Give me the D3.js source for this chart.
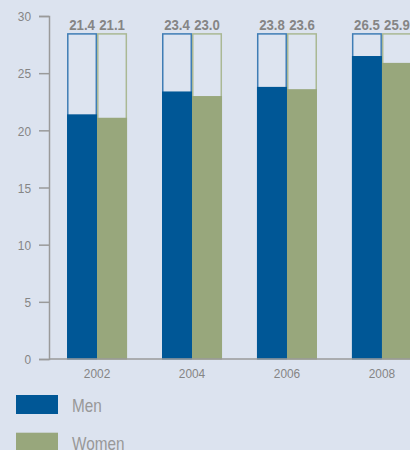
<!DOCTYPE html>
<html>
<head>
<meta charset="utf-8">
<script src="https://cdn.jsdelivr.net/npm/d3@7"></script>
<style>
  html, body { margin: 0; padding: 0; background: #dce3ef; }
  svg { display: block; }
  text { font-family: "Liberation Sans", Arial, sans-serif; }
</style>
</head>
<body>
<svg id="chart" width="410" height="450"></svg>
<script>
// Survey years and percentages per group
const years = ["2002", "2004", "2006", "2008"];
const men = [21.4, 23.4, 23.8, 26.5];
const women = [21.1, 23.0, 23.6, 25.9];
const seriesNames = ["Men", "Women"];
const yTicks = [0, 5, 10, 15, 20, 25, 30];
// Height of the empty frame drawn behind every bar
const frameValue = 28.5;

const colors = { Men: "#005796", Women: "#98a77c" };
const frameStroke = { Men: "#3f7db5", Women: "#aab894" };
const textGray = "#858585";
const axisGray = "#9a9a9a";

const svg = d3.select("#chart");

const y = d3.scaleLinear().domain([0, 30]).range([359, 16]);
const x = d3.scaleBand().domain(years).range([49, 430])
  .paddingInner(0.368).paddingOuter(0.19);
const xs = d3.scaleBand().domain(seriesNames).range([0, x.bandwidth()]);

const rows = years.map((yr, i) => ({ year: yr, Men: men[i], Women: women[i] }));

// Place a horizontally condensed text at (px, py)
function condensed(sel, px, py, k) {
  const f = v => (d, i, n) => typeof v === "function" ? v(d, i, n) : v;
  sel.attr("x", 0).attr("y", 0)
    .attr("transform", (d, i, n) => `translate(${f(px)(d, i, n)},${f(py)(d, i, n)}) scale(${k},1)`);
}

const groups = svg.append("g").selectAll("g").data(rows).join("g")
  .attr("transform", d => `translate(${x(d.year)},0)`);

const pairs = d => seriesNames.map(k => ({ key: k, value: d[k] }));

// Frames
groups.selectAll("rect.frame").data(pairs)
  .join("rect").attr("class", "frame")
  .attr("x", d => xs(d.key) + 0.75)
  .attr("y", y(frameValue) + 0.75)
  .attr("width", xs.bandwidth() - 1.5)
  .attr("height", y(0) - y(frameValue) - 0.75)
  .attr("fill", "#dde4f0")
  .attr("stroke", d => frameStroke[d.key])
  .attr("stroke-width", 1.5);

// Bars
groups.selectAll("rect.bar").data(pairs)
  .join("rect").attr("class", "bar")
  .attr("x", d => xs(d.key))
  .attr("y", d => y(d.value))
  .attr("width", xs.bandwidth())
  .attr("height", d => y(0) - y(d.value))
  .attr("fill", d => colors[d.key]);

// Value labels above frames
groups.selectAll("text.val").data(pairs)
  .join("text").attr("class", "val")
  .attr("text-anchor", "middle")
  .attr("font-size", 15)
  .attr("font-weight", "bold")
  .attr("fill", textGray)
  .text(d => d.value.toFixed(1))
  .call(condensed, d => xs(d.key) + xs.bandwidth() / 2, y(frameValue) - 3, 0.88);

// Y axis
const yAxis = svg.append("g").attr("transform", "translate(49,0)")
  .call(d3.axisLeft(y).tickValues(yTicks).tickSize(10).tickPadding(6));
yAxis.select(".domain").attr("stroke", axisGray).attr("stroke-width", 1.5);
yAxis.selectAll(".tick line").attr("stroke", axisGray).attr("stroke-width", 1.5);
yAxis.selectAll(".tick text").attr("fill", textGray).attr("font-size", 13.5)
  .attr("font-family", null).attr("dy", "0.35em")
  .call(condensed, -18, 0, 0.88);

// X axis
const xAxis = svg.append("g").attr("transform", `translate(0,${y(0)})`)
  .call(d3.axisBottom(x).tickSize(0).tickPadding(9));
xAxis.select(".domain").attr("d", "M49,0H410").attr("stroke", axisGray).attr("stroke-width", 1.5);
xAxis.selectAll(".tick text").attr("fill", textGray).attr("font-size", 13.5)
  .attr("font-family", null).attr("dy", "0.71em")
  .call(condensed, 0, 9, 0.88);

// Legend
const legend = svg.append("g").selectAll("g").data(seriesNames).join("g")
  .attr("transform", (d, i) => `translate(16,${395 + i * 37.7})`);
legend.append("rect").attr("width", 42).attr("height", 19)
  .attr("fill", d => colors[d]);
legend.append("text")
  .attr("font-size", 18).attr("fill", "#989898").text(d => d)
  .call(condensed, 56, 17, 0.85);
</script>
</body>
</html>
